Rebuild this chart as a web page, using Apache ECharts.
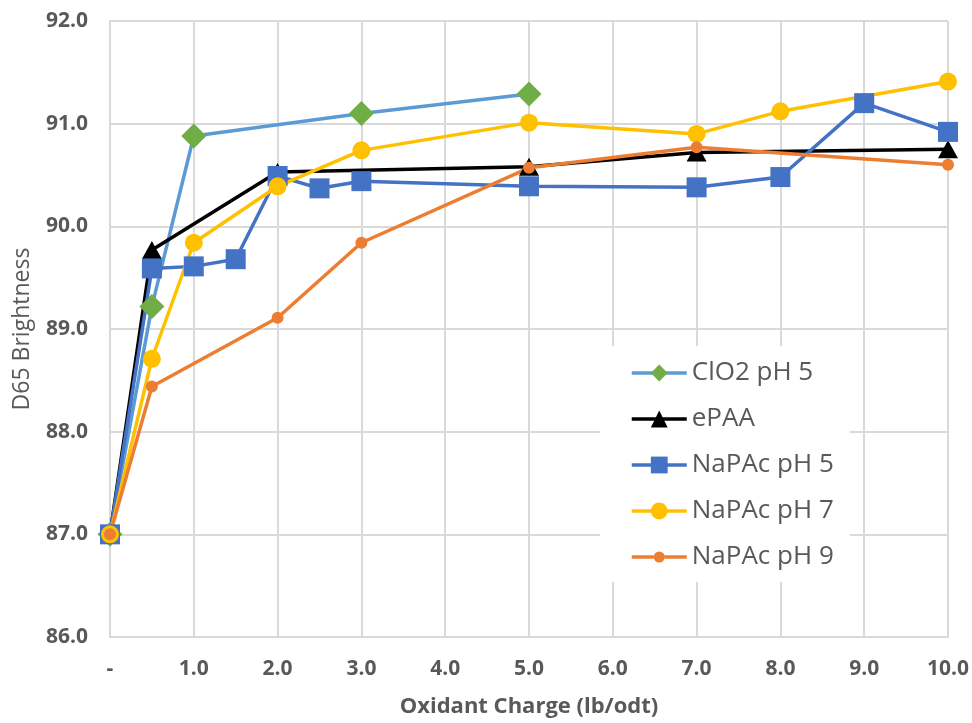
<!DOCTYPE html>
<html>
<head>
<meta charset="utf-8">
<title>D65 Brightness vs Oxidant Charge</title>
<script src="https://cdn.jsdelivr.net/npm/echarts@6/dist/echarts.min.js"></script>
<style>
  html, body { margin: 0; padding: 0; background: #fff; }
  #chart { width: 972px; height: 723px; }
</style>
</head>
<body>
<div id="chart"></div>
<script>
// Oxidant charge (lb/odt) and D65 brightness for each treatment
const seriesNames = ['ClO2 pH 5', 'ePAA', 'NaPAc pH 5', 'NaPAc pH 7', 'NaPAc pH 9'];

const clo2Charge = [0, 0.5, 1, 3, 5];
const clo2Brightness = [87.0, 89.22, 90.88, 91.10, 91.29];

const epaaCharge = [0, 0.5, 2, 5, 7, 10];
const epaaBrightness = [87.0, 89.77, 90.53, 90.58, 90.72, 90.75];

const napacPH5Charge = [0, 0.5, 1, 1.5, 2, 2.5, 3, 5, 7, 8, 9, 10];
const napacPH5Brightness = [87.0, 89.59, 89.61, 89.68, 90.49, 90.37, 90.44, 90.39, 90.38, 90.48, 91.20, 90.92];

const napacPH7Charge = [0, 0.5, 1, 2, 3, 5, 7, 8, 10];
const napacPH7Brightness = [87.0, 88.71, 89.84, 90.39, 90.74, 91.01, 90.90, 91.12, 91.41];

const napacPH9Charge = [0, 0.5, 2, 3, 5, 7, 10];
const napacPH9Brightness = [87.0, 88.44, 89.11, 89.84, 90.57, 90.77, 90.60];

const yTicks = [86, 87, 88, 89, 90, 91, 92];
const xTicks = [0, 1, 2, 3, 4, 5, 6, 7, 8, 9, 10];

const zip = (xs, ys) => xs.map((x, i) => [x, ys[i]]);

const labelColor = '#595959';
const gridColor = '#d9d9d9';
const font = '"Open Sans", "Noto Sans", sans-serif';
const lineWidth = 3.5;

const chart = echarts.init(document.getElementById('chart'), null, { renderer: 'canvas' });

function lineSeries(name, data, lineColor, markerColor, symbol, size) {
  return {
    name: name,
    type: 'line',
    data: data,
    symbol: symbol,
    symbolSize: size,
    showAllSymbol: true,
    lineStyle: { color: lineColor, width: lineWidth },
    itemStyle: { color: markerColor, borderWidth: 0 },
    emphasis: { disabled: true },
    animation: false
  };
}

chart.setOption({
  backgroundColor: '#ffffff',
  animation: false,
  grid: { left: 110, right: 24, top: 21, bottom: 85, containLabel: false },
  xAxis: {
    type: 'value',
    min: xTicks[0],
    max: xTicks[xTicks.length - 1],
    interval: 1,
    name: 'Oxidant Charge (lb/odt)',
    nameLocation: 'middle',
    nameGap: 59,
    nameTextStyle: { fontFamily: font, fontWeight: 'bold', fontSize: 22, color: labelColor },
    axisLine: { show: true, lineStyle: { color: gridColor, width: 2 } },
    axisTick: { show: false },
    axisLabel: {
      margin: 22,
      fontFamily: font,
      fontWeight: 'bold',
      fontSize: 21,
      color: labelColor,
      formatter: v => (v === 0 ? '-' : v.toFixed(1))
    },
    splitLine: { show: true, lineStyle: { color: gridColor, width: 2 } }
  },
  yAxis: {
    type: 'value',
    min: yTicks[0],
    max: yTicks[yTicks.length - 1],
    interval: 1,
    name: 'D65 Brightness',
    nameLocation: 'middle',
    nameGap: 76,
    nameTextStyle: { fontFamily: font, fontSize: 23, color: labelColor },
    axisLine: { show: true, lineStyle: { color: gridColor, width: 2 } },
    axisTick: { show: false },
    axisLabel: {
      margin: 22,
      fontFamily: font,
      fontWeight: 'bold',
      fontSize: 21,
      color: labelColor,
      formatter: v => v.toFixed(1)
    },
    splitLine: { show: true, lineStyle: { color: gridColor, width: 2 } }
  },
  legend: {
    orient: 'vertical',
    left: 600,
    top: 346,
    padding: [14, 16, 12, 30],
    backgroundColor: '#ffffff',
    itemWidth: 55,
    itemHeight: 21,
    itemGap: 20,
    selectedMode: false,
    lineStyle: { width: lineWidth },
    textStyle: { fontFamily: font, fontSize: 26, lineHeight: 26, color: labelColor },
    data: [
      { name: seriesNames[0] },
      { name: seriesNames[1] },
      { name: seriesNames[2] },
      { name: seriesNames[3] },
      // smaller dot for the pH 9 series, between two line segments
      { name: seriesNames[4], icon: 'path://M0,3.75h22v3.5H0z M33,3.75h22v3.5H33z M22,5.5a5.5,5.5 0 1,0 11,0a5.5,5.5 0 1,0 -11,0z' }
    ]
  },
  series: [
    lineSeries(seriesNames[0], zip(clo2Charge, clo2Brightness), '#5B9BD5', '#70AD47', 'diamond', 25),
    lineSeries(seriesNames[1], zip(epaaCharge, epaaBrightness), '#000000', '#000000', 'triangle', [20, 18]),
    lineSeries(seriesNames[2], zip(napacPH5Charge, napacPH5Brightness), '#4472C4', '#4472C4', 'rect', 20),
    lineSeries(seriesNames[3], zip(napacPH7Charge, napacPH7Brightness), '#FFC000', '#FFC000', 'circle', 18),
    lineSeries(seriesNames[4], zip(napacPH9Charge, napacPH9Brightness), '#ED7D31', '#ED7D31', 'circle', 12)
  ]
});
</script>
</body>
</html>
